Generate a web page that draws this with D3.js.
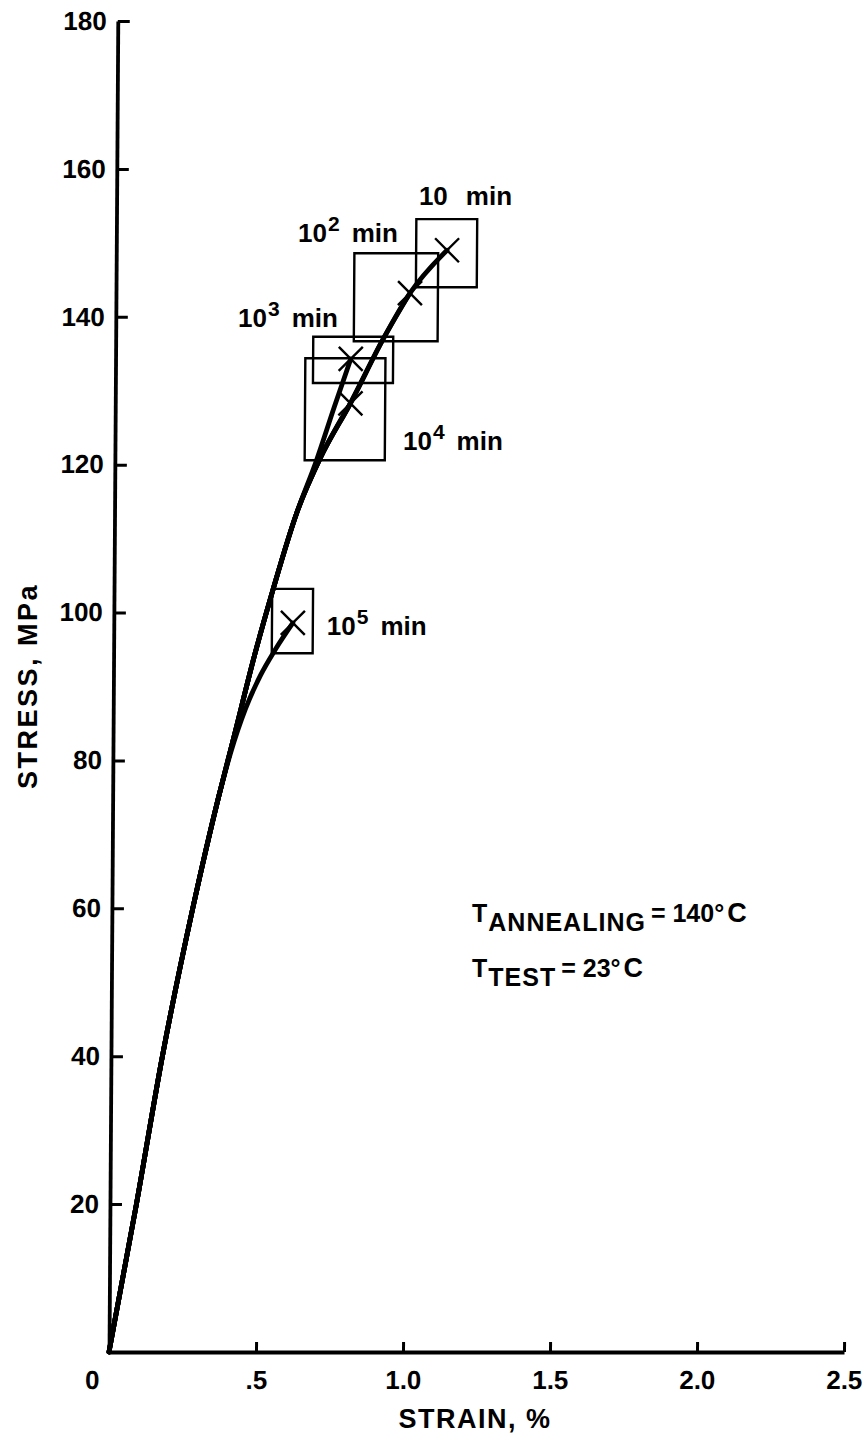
<!DOCTYPE html>
<html><head><meta charset="utf-8">
<script src="https://cdn.jsdelivr.net/npm/d3@7"></script>
<style>
body{margin:0;background:#fff}
svg text{font-family:"Liberation Sans",Arial,Helvetica,sans-serif;font-weight:bold;fill:#000}
</style>
</head><body>
<svg id="c" width="864" height="1435"></svg>
<script>
// ---- data ----
const xTicks = [0, 0.5, 1.0, 1.5, 2.0, 2.5];
const xTickLabels = ["0", ".5", "1.0", "1.5", "2.0", "2.5"];
const yTicks = [20, 40, 60, 80, 100, 120, 140, 160, 180];
const yTickLabels = ["20", "40", "60", "80", "100", "120", "140", "160", "180"];

// curves (strain %, stress MPa)
const strain10 = [0, 0.09, 0.175, 0.275, 0.36, 0.41, 0.48, 0.54, 0.62, 0.70, 0.80, 0.91, 1.0, 1.125];
const stress10 = [0, 20, 40, 60, 75, 83, 94.3, 103, 113.5, 121, 128.3, 137, 143.2, 149];
const strain100 = [0, 0.09, 0.175, 0.275, 0.36, 0.41, 0.48, 0.54, 0.62, 0.70, 0.80, 0.91, 1.0];
const stress100 = [0, 20, 40, 60, 75, 83, 94.3, 103, 113.5, 121, 128.3, 137, 143.2];
const strain1000 = [0, 0.09, 0.175, 0.275, 0.36, 0.41, 0.48, 0.54, 0.62, 0.685, 0.745, 0.80];
const stress1000 = [0, 20, 40, 60, 75, 83, 94.3, 103, 113.5, 120.5, 127.8, 134.3];
const strain10000 = [0, 0.09, 0.175, 0.275, 0.36, 0.41, 0.48, 0.54, 0.62, 0.70, 0.80];
const stress10000 = [0, 20, 40, 60, 75, 83, 94.3, 103, 113.5, 121, 128.3];
const strain100000 = [0, 0.09, 0.175, 0.275, 0.36, 0.40, 0.45, 0.50, 0.55, 0.609];
const stress100000 = [0, 20, 40, 60, 75, 81, 87, 91.5, 95, 98.6];

// end points (X marks)
const markStrain = [1.125, 1.0, 0.80, 0.80, 0.609];
const markStress = [149, 143.2, 134.3, 128.3, 98.6];

// scatter boxes
const boxStrainLo = [1.02, 0.81, 0.672, 0.6455, 0.538];
const boxStrainHi = [1.227, 1.095, 0.944, 0.918, 0.677];
const boxStressLo = [144.0, 136.7, 131.05, 120.6, 94.5];
const boxStressHi = [153.2, 148.6, 137.3, 134.4, 103.2];

// labels
const labelExp = ["", "2", "3", "4", "5"];
const labelStrain = [1.054, 0.643, 0.439, 1.0, 0.741];
const labelStress = [155.1, 150.1, 138.6, 122.0, 97.0];

// ---- drawing ----
const svg = d3.select("#c");
const x = d3.scaleLinear().domain([0, 2.5]).range([109, 844]);
const y = d3.scaleLinear().domain([0, 180]).range([1352, 21]);
const skew = -Math.atan(0.0066) * 180 / Math.PI;
const ox = x(0), oy = y(0);
const g = svg.append("g").attr("transform", `translate(${ox},${oy}) skewX(${skew}) translate(${-ox},${-oy})`);

// y axis
const ya = g.append("g").attr("transform", `translate(${ox},0)`)
  .call(d3.axisLeft(y).tickValues(yTicks).tickFormat((d, i) => yTickLabels[i])
    .tickSizeInner(-12).tickSizeOuter(0).tickPadding(11));
// x axis
const xa = g.append("g").attr("transform", `translate(0,${oy})`)
  .call(d3.axisBottom(x).tickValues(xTicks).tickFormat((d, i) => xTickLabels[i])
    .tickSizeInner(-10).tickSizeOuter(0).tickPadding(19));
[ya, xa].forEach(a => {
  a.attr("font-family", null).attr("font-size", null);
  a.select(".domain").attr("stroke", "#000").attr("stroke-width", 3.8);
  a.selectAll(".tick line").attr("stroke", "#000").attr("stroke-width", 3);
  a.selectAll(".tick text").attr("font-size", 26).style("font-size", "26px");
});
xa.selectAll(".tick").filter(d => d === 0).select("line").remove();
xa.selectAll(".tick").filter(d => d === 0).select("text").attr("dx", -17);

// curves
const line = d3.line().x(d => x(d[0])).y(d => y(d[1])).curve(d3.curveMonotoneX);
const series = [
  [strain100000, stress100000],
  [strain10000, stress10000],
  [strain1000, stress1000],
  [strain100, stress100],
  [strain10, stress10]
];
series.forEach(([xs, ys]) => {
  g.append("path").datum(xs.map((v, i) => [v, ys[i]]))
    .attr("d", line).attr("fill", "none").attr("stroke", "#000")
    .attr("stroke-width", 4.8).attr("stroke-linecap", "round").attr("stroke-linejoin", "round");
});

// boxes
boxStrainLo.forEach((lo, i) => {
  g.append("rect")
    .attr("x", x(lo)).attr("y", y(boxStressHi[i]))
    .attr("width", x(boxStrainHi[i]) - x(lo))
    .attr("height", y(boxStressLo[i]) - y(boxStressHi[i]))
    .attr("fill", "none").attr("stroke", "#000").attr("stroke-width", 2.4);
});

// X marks
const h = 12;
markStrain.forEach((s, i) => {
  const cx = x(s), cy = y(markStress[i]);
  g.append("path")
    .attr("d", `M${cx - h},${cy - h}L${cx + h},${cy + h}M${cx - h},${cy + h}L${cx + h},${cy - h}`)
    .attr("stroke", "#000").attr("stroke-width", 2.4).attr("fill", "none");
});

// axis titles
svg.append("text").attr("x", 475).attr("y", 1428).attr("text-anchor", "middle")
  .attr("font-size", 27).attr("letter-spacing", 1.5).text("STRAIN, %");
svg.append("text").attr("transform", "translate(37,686) rotate(-90)").attr("text-anchor", "middle")
  .attr("font-size", 27).attr("letter-spacing", 2.5).text("STRESS, MPa");

// time labels
labelExp.forEach((e, i) => {
  const t = svg.append("text").attr("x", x(labelStrain[i])).attr("y", y(labelStress[i])).attr("font-size", 26);
  t.append("tspan").text("10");
  if (e) {
    t.append("tspan").attr("font-size", 21).attr("dy", -11).attr("dx", 1).text(e);
    t.append("tspan").attr("dy", 11).attr("dx", 12).text("min");
  } else {
    t.append("tspan").attr("dx", 18).text("min");
  }
});

// temperature notes
const n1 = svg.append("text").attr("x", 472).attr("y", 922).attr("font-size", 25);
n1.append("tspan").text("T");
n1.append("tspan").attr("dy", 9).attr("dx", 1).attr("letter-spacing", 1).text("ANNEALING");
n1.append("tspan").attr("dy", -9).attr("dx", 5).text("= 140°");
n1.append("tspan").attr("dx", 3).attr("font-size", 27).text("C");
const n2 = svg.append("text").attr("x", 472).attr("y", 977).attr("font-size", 25);
n2.append("tspan").text("T");
n2.append("tspan").attr("dy", 9).attr("dx", 1).attr("letter-spacing", 1).text("TEST");
n2.append("tspan").attr("dy", -9).attr("dx", 5).text("= 23°");
n2.append("tspan").attr("dx", 3).attr("font-size", 27).text("C");
</script>
</body></html>
